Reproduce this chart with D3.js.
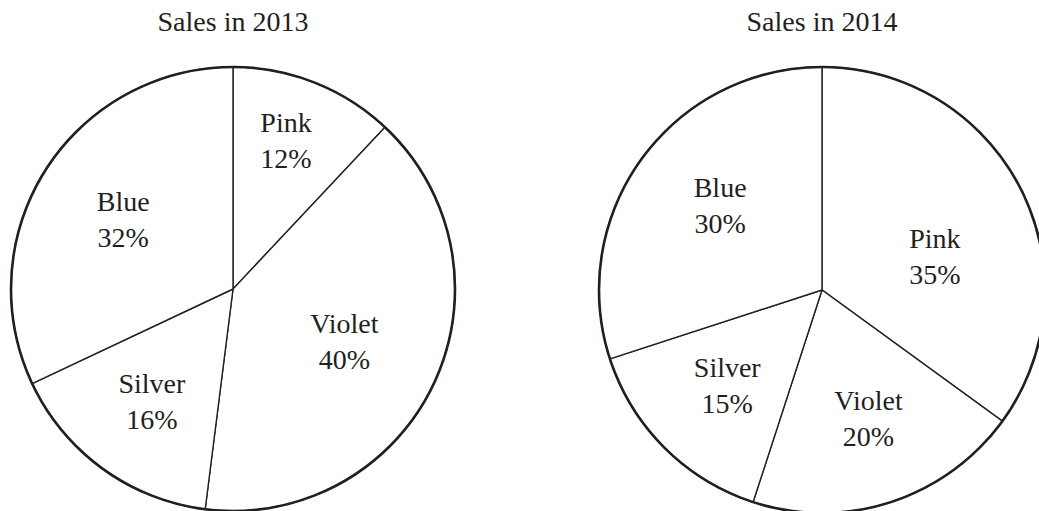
<!DOCTYPE html>
<html>
<head>
<meta charset="utf-8">
<script src="https://cdn.jsdelivr.net/npm/d3@7"></script>
<style>
  body { margin: 0; background: #fff; }
  text { font-family: "Liberation Serif", "Times New Roman", serif; fill: #231f20; }
</style>
</head>
<body>
<script>
var categories = ['Pink', 'Violet', 'Silver', 'Blue'];
var titles = ['Sales in 2013', 'Sales in 2014'];
var sales2013 = [12, 40, 16, 32];
var sales2014 = [35, 20, 15, 30];

var W = 1039, H = 511;
var svg = d3.select('body').append('svg').attr('width', W).attr('height', H);

// layout of the two pies
var charts = [
  {title: titles[0], values: sales2013, cx: 233, cy: 289, r: 222,
   labelR: [158, 123, 138, 130], labelShift: [-2, 0, 0, 0]},
  {title: titles[1], values: sales2014, cx: 822, cy: 290, r: 223,
   labelR: [118, 136, 134, 133], labelShift: [10, -2, 0, 4]}
];

var pie = d3.pie().sort(null).value(d => d);

charts.forEach(function(c) {
  var g = svg.append('g').attr('transform', 'translate(' + c.cx + ',' + c.cy + ')');

  svg.append('text')
    .attr('x', c.cx).attr('y', 31)
    .attr('text-anchor', 'middle')
    .attr('font-size', 28)
    .text(c.title);

  var arc = d3.arc().innerRadius(0).outerRadius(c.r);
  var arcs = pie(c.values);

  g.selectAll('path.slice')
    .data(arcs)
    .enter().append('path')
      .attr('class', 'slice')
      .attr('fill', '#fff')
      .attr('stroke', '#231f20')
      .attr('stroke-width', 1.4)
      .attr('d', arc);

  g.append('circle')
    .attr('r', c.r)
    .attr('fill', 'none')
    .attr('stroke', '#231f20')
    .attr('stroke-width', 2.6);

  var lab = g.selectAll('g.lab')
    .data(arcs)
    .enter().append('g')
      .attr('class', 'lab')
      .attr('transform', function(d, i) {
        var a = (d.startAngle + d.endAngle) / 2 + c.labelShift[i] * Math.PI / 180;
        var rr = c.labelR[i];
        return 'translate(' + (rr * Math.sin(a)) + ',' + (-rr * Math.cos(a)) + ')';
      });

  lab.append('text')
    .attr('text-anchor', 'middle')
    .attr('font-size', 28)
    .attr('y', -8)
    .text((d, i) => categories[i]);

  lab.append('text')
    .attr('text-anchor', 'middle')
    .attr('font-size', 28)
    .attr('y', 28)
    .text(d => d.data + '%');
});
</script>
</body>
</html>
